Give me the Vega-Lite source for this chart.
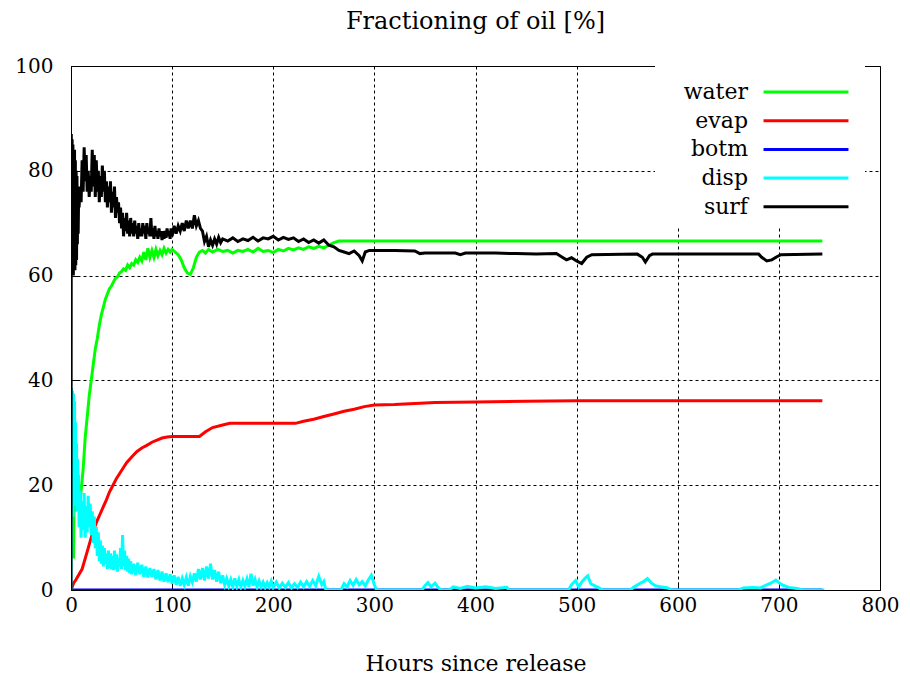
{
  "$schema": "https://vega.github.io/schema/vega-lite/v6.json",
  "width": 809,
  "height": 524,
  "autosize": {"type": "none"},
  "padding": {"left": 71, "top": 66, "right": 30, "bottom": 88},
  "background": "white",
  "title": {"text": "Fractioning of oil [%]", "font": "DejaVu Serif", "fontSize": 24, "fontWeight": "normal", "color": "black", "offset": 22, "anchor": "middle"},
  "config": {
    "view": {"stroke": "black", "strokeWidth": 1},
    "axis": {
      "domain": false, "grid": true, "gridColor": "black", "gridDash": [3, 3], "gridOpacity": 1, "gridWidth": 1,
      "tickColor": "black", "tickSize": -8, "labelFont": "DejaVu Serif", "labelFontSize": 20, "labelColor": "black", "labelFlush": false,
      "titleFont": "DejaVu Serif", "titleFontSize": 22, "titleFontWeight": "normal", "titleColor": "black"
    },
    "legend": {"labelFont": "DejaVu Serif", "labelFontSize": 22, "labelColor": "black"}
  },
  "datasets": {
    "water": [
      {"t":2.5,"v":6},{"t":3,"v":17},{"t":4,"v":15},{"t":5,"v":17},{"t":6,"v":15.5},{"t":7,"v":16.5},{"t":8,"v":16},{"t":9,"v":17},{"t":10,"v":19},{"t":11,"v":21},{"t":12,"v":23},{"t":13,"v":26},{"t":14,"v":29},{"t":15,"v":31},{"t":16,"v":33},{"t":17,"v":35},{"t":18,"v":37},{"t":19,"v":38.5},{"t":20,"v":40},{"t":21,"v":41.5},{"t":22,"v":43},{"t":23,"v":44.5},{"t":24,"v":46},{"t":25,"v":47},{"t":26,"v":48},{"t":28,"v":50.5},{"t":30,"v":52.5},{"t":32,"v":54},{"t":34,"v":55.5},{"t":36,"v":56.5},{"t":38,"v":57.5},{"t":40,"v":58},{"t":42,"v":58.8},{"t":44,"v":59.5},{"t":46,"v":59.8},{"t":48,"v":60.5},{"t":50,"v":60.8},{"t":52,"v":61.3},{"t":54,"v":61},{"t":56,"v":62},{"t":58,"v":61.5},{"t":60,"v":62.3},{"t":62,"v":62},{"t":64,"v":63},{"t":66,"v":62.5},{"t":68,"v":63.5},{"t":70,"v":62.8},{"t":72,"v":64.5},{"t":74,"v":63},{"t":76,"v":65.2},{"t":78,"v":63.5},{"t":80,"v":64.8},{"t":82,"v":63.5},{"t":84,"v":65},{"t":86,"v":63.8},{"t":88,"v":64.8},{"t":90,"v":64},{"t":92,"v":65.2},{"t":94,"v":64.3},{"t":96,"v":65},{"t":98,"v":64.5},{"t":100,"v":65},{"t":103,"v":64.5},{"t":106,"v":64},{"t":109,"v":63},{"t":112,"v":61.5},{"t":115,"v":60.5},{"t":118,"v":60.2},{"t":121,"v":61.5},{"t":124,"v":63.5},{"t":127,"v":64.5},{"t":130,"v":64.8},{"t":133,"v":64.3},{"t":136,"v":65},{"t":140,"v":64.5},{"t":145,"v":65},{"t":150,"v":64.6},{"t":155,"v":64.8},{"t":160,"v":64.3},{"t":165,"v":64.8},{"t":170,"v":64.6},{"t":175,"v":65},{"t":180,"v":64.5},{"t":185,"v":65.2},{"t":190,"v":64.6},{"t":195,"v":64.8},{"t":200,"v":64.4},{"t":205,"v":65},{"t":210,"v":64.7},{"t":215,"v":65.2},{"t":220,"v":64.9},{"t":225,"v":65.3},{"t":230,"v":65},{"t":235,"v":65.5},{"t":240,"v":65.2},{"t":245,"v":65.6},{"t":250,"v":65.3},{"t":255,"v":65.8},{"t":260,"v":66.3},{"t":265,"v":66.6},{"t":743,"v":66.6}
    ],
    "evap": [
      {"t":0,"v":0},{"t":2.6,"v":1.3},{"t":5,"v":2},{"t":8,"v":3},{"t":11,"v":4},{"t":14,"v":6},{"t":17,"v":8},{"t":20,"v":10},{"t":23,"v":11.8},{"t":26,"v":13.3},{"t":29,"v":14.6},{"t":32,"v":15.9},{"t":35,"v":17.2},{"t":38,"v":18.7},{"t":41,"v":19.8},{"t":45,"v":21.3},{"t":50,"v":22.8},{"t":55,"v":24.3},{"t":60,"v":25.4},{"t":65,"v":26.4},{"t":70,"v":27.1},{"t":75,"v":27.6},{"t":80,"v":28.2},{"t":85,"v":28.6},{"t":90,"v":29},{"t":95,"v":29.2},{"t":100,"v":29.3},{"t":127,"v":29.3},{"t":133,"v":30.2},{"t":140,"v":31},{"t":150,"v":31.5},{"t":157,"v":31.8},{"t":222,"v":31.8},{"t":230,"v":32.2},{"t":240,"v":32.6},{"t":250,"v":33.1},{"t":260,"v":33.6},{"t":270,"v":34.1},{"t":280,"v":34.5},{"t":290,"v":35},{"t":300,"v":35.3},{"t":320,"v":35.4},{"t":340,"v":35.6},{"t":360,"v":35.8},{"t":400,"v":35.9},{"t":450,"v":36},{"t":500,"v":36.1},{"t":743,"v":36.1}
    ],
    "botm": [
      {"t":0,"v":0},{"t":743,"v":0}
    ],
    "disp": [
      {"t":0,"v":0},{"t":0.5,"v":38.5},{"t":1,"v":15},{"t":1.5,"v":38},{"t":2,"v":14},{"t":2.5,"v":37.5},{"t":3,"v":16},{"t":3.5,"v":36},{"t":4,"v":17},{"t":4.5,"v":32},{"t":5,"v":18},{"t":5.5,"v":28},{"t":6,"v":15},{"t":6.5,"v":25},{"t":7,"v":19},{"t":7.5,"v":22},{"t":8,"v":12},{"t":9,"v":19},{"t":10,"v":10},{"t":11,"v":17},{"t":12,"v":11.5},{"t":13,"v":18.5},{"t":14,"v":10},{"t":15,"v":16},{"t":16,"v":11},{"t":17,"v":18},{"t":18,"v":12},{"t":19,"v":16.5},{"t":20,"v":10.5},{"t":21,"v":15},{"t":22,"v":9},{"t":23,"v":14},{"t":24,"v":8},{"t":25,"v":12},{"t":26,"v":6.5},{"t":27,"v":11},{"t":28,"v":5.5},{"t":29,"v":9.5},{"t":30,"v":5},{"t":31,"v":8.5},{"t":32,"v":4.5},{"t":33,"v":8},{"t":34,"v":5},{"t":35,"v":7},{"t":36,"v":4},{"t":37,"v":7.5},{"t":38,"v":4.2},{"t":39,"v":7},{"t":40,"v":4},{"t":41,"v":6.5},{"t":42,"v":3.8},{"t":43,"v":7.5},{"t":44,"v":4},{"t":45,"v":6.8},{"t":46,"v":3.5},{"t":47,"v":6},{"t":48,"v":4.5},{"t":49,"v":8},{"t":50,"v":4},{"t":51,"v":10.5},{"t":52,"v":4.5},{"t":53,"v":7.5},{"t":54,"v":3.8},{"t":55,"v":6.5},{"t":56,"v":3.5},{"t":57,"v":6},{"t":58,"v":3.2},{"t":59,"v":5.5},{"t":60,"v":3},{"t":62,"v":5},{"t":64,"v":2.8},{"t":66,"v":5.2},{"t":68,"v":3},{"t":70,"v":4.8},{"t":72,"v":2.5},{"t":74,"v":4.5},{"t":76,"v":2.4},{"t":78,"v":4.2},{"t":80,"v":2.5},{"t":82,"v":4},{"t":84,"v":2},{"t":86,"v":3.8},{"t":88,"v":1.8},{"t":90,"v":3.5},{"t":92,"v":1.6},{"t":94,"v":3.2},{"t":96,"v":1.5},{"t":98,"v":3},{"t":100,"v":1.2},{"t":102,"v":2.8},{"t":104,"v":1},{"t":106,"v":2.5},{"t":108,"v":0.8},{"t":110,"v":2.2},{"t":112,"v":1},{"t":114,"v":2.4},{"t":116,"v":0.8},{"t":118,"v":2.6},{"t":120,"v":1.5},{"t":122,"v":3.2},{"t":124,"v":1.6},{"t":126,"v":4},{"t":128,"v":2},{"t":130,"v":4.2},{"t":132,"v":1.8},{"t":134,"v":4.5},{"t":136,"v":2.2},{"t":138,"v":5},{"t":140,"v":2},{"t":142,"v":3.8},{"t":144,"v":1.6},{"t":146,"v":3.5},{"t":148,"v":1.3},{"t":150,"v":2.8},{"t":152,"v":1},{"t":154,"v":2.2},{"t":156,"v":0.8},{"t":158,"v":2},{"t":160,"v":0.6},{"t":162,"v":2.2},{"t":164,"v":0.7},{"t":166,"v":2},{"t":168,"v":0.6},{"t":170,"v":1.8},{"t":172,"v":0.7},{"t":174,"v":2.1},{"t":176,"v":0.6},{"t":178,"v":3.1},{"t":180,"v":0.8},{"t":182,"v":2},{"t":184,"v":0.6},{"t":186,"v":1.7},{"t":188,"v":0.6},{"t":190,"v":1.5},{"t":192,"v":0.5},{"t":194,"v":1.4},{"t":196,"v":0.6},{"t":198,"v":1.7},{"t":200,"v":0.5},{"t":203,"v":1.5},{"t":206,"v":0.4},{"t":209,"v":1.3},{"t":212,"v":0.5},{"t":215,"v":1.4},{"t":218,"v":0.4},{"t":221,"v":1.2},{"t":224,"v":0.5},{"t":227,"v":1.5},{"t":230,"v":0.6},{"t":233,"v":1.6},{"t":236,"v":0.7},{"t":239,"v":1.8},{"t":242,"v":0.8},{"t":245,"v":2.6},{"t":248,"v":1},{"t":250,"v":1.6},{"t":252,"v":0},{"t":267,"v":0},{"t":270,"v":1.2},{"t":273,"v":0.6},{"t":276,"v":1.8},{"t":279,"v":0.9},{"t":282,"v":2},{"t":285,"v":1},{"t":288,"v":1.6},{"t":291,"v":0.8},{"t":294,"v":1.9},{"t":297,"v":2.8},{"t":300,"v":1},{"t":302,"v":0},{"t":347,"v":0},{"t":350,"v":0.8},{"t":353,"v":1.4},{"t":356,"v":0.6},{"t":360,"v":1.3},{"t":363,"v":0.5},{"t":366,"v":0},{"t":374,"v":0},{"t":378,"v":0.6},{"t":385,"v":0.3},{"t":392,"v":0.7},{"t":400,"v":0.4},{"t":410,"v":0.6},{"t":420,"v":0.3},{"t":431,"v":0.5},{"t":433,"v":0},{"t":492,"v":0},{"t":495,"v":1},{"t":499,"v":1.8},{"t":502,"v":0.6},{"t":505,"v":1.5},{"t":508,"v":2.2},{"t":511,"v":2.7},{"t":514,"v":1.2},{"t":518,"v":0.8},{"t":522,"v":0.4},{"t":526,"v":0},{"t":553,"v":0},{"t":557,"v":0.6},{"t":562,"v":1.2},{"t":566,"v":1.6},{"t":570,"v":2.2},{"t":574,"v":1.3},{"t":578,"v":0.8},{"t":583,"v":0.6},{"t":590,"v":0.4},{"t":594,"v":0},{"t":660,"v":0},{"t":665,"v":0.4},{"t":675,"v":0.5},{"t":682,"v":0.4},{"t":688,"v":1},{"t":692,"v":1.3},{"t":697,"v":1.9},{"t":700,"v":1.4},{"t":704,"v":0.9},{"t":710,"v":0.5},{"t":718,"v":0.3},{"t":724,"v":0},{"t":745,"v":0}
    ],
    "surf": [
      {"t":0,"v":0},{"t":0.3,"v":87},{"t":0.7,"v":60},{"t":1.1,"v":86},{"t":1.5,"v":61},{"t":1.9,"v":85},{"t":2.3,"v":60},{"t":2.7,"v":83},{"t":3.1,"v":62},{"t":3.5,"v":84},{"t":3.9,"v":61},{"t":4.3,"v":82},{"t":4.7,"v":62},{"t":5.1,"v":80},{"t":5.5,"v":63},{"t":5.9,"v":79},{"t":6.3,"v":66},{"t":6.7,"v":77},{"t":7.1,"v":68},{"t":7.6,"v":76},{"t":8,"v":73},{"t":9,"v":77},{"t":10,"v":74},{"t":11,"v":82},{"t":12,"v":76},{"t":13,"v":84.5},{"t":14,"v":78},{"t":15,"v":83},{"t":16,"v":76},{"t":17,"v":80},{"t":18,"v":75},{"t":19,"v":79},{"t":20,"v":76},{"t":21,"v":84},{"t":22,"v":77},{"t":23,"v":83},{"t":24,"v":75},{"t":25,"v":82},{"t":26,"v":76},{"t":27,"v":80},{"t":28,"v":74},{"t":29,"v":79},{"t":30,"v":75},{"t":31,"v":81},{"t":32,"v":76},{"t":33,"v":80},{"t":34,"v":74},{"t":35,"v":78},{"t":36,"v":73},{"t":37,"v":77},{"t":38,"v":74},{"t":39,"v":78},{"t":40,"v":72},{"t":41,"v":76},{"t":42,"v":73},{"t":43,"v":77},{"t":44,"v":71},{"t":45,"v":75},{"t":46,"v":72},{"t":47,"v":74},{"t":48,"v":70},{"t":49,"v":73},{"t":50,"v":69},{"t":51,"v":72},{"t":52,"v":67.5},{"t":53,"v":71},{"t":54,"v":68.5},{"t":55,"v":72},{"t":56,"v":68},{"t":57,"v":70.5},{"t":58,"v":67.5},{"t":59,"v":71},{"t":60,"v":68},{"t":61,"v":70},{"t":62,"v":67.5},{"t":63,"v":70.5},{"t":64,"v":68},{"t":65,"v":69.5},{"t":66,"v":67},{"t":67,"v":70},{"t":68,"v":67.5},{"t":69,"v":69},{"t":70,"v":67.5},{"t":71,"v":70},{"t":72,"v":68},{"t":73,"v":69.5},{"t":74,"v":67},{"t":75,"v":70},{"t":76,"v":68},{"t":77,"v":69},{"t":78,"v":67.5},{"t":79,"v":71},{"t":80,"v":67.5},{"t":81,"v":69},{"t":82,"v":67},{"t":83,"v":69.5},{"t":84,"v":67.5},{"t":85,"v":68.5},{"t":86,"v":67},{"t":87,"v":69},{"t":88,"v":67.5},{"t":89,"v":68.5},{"t":90,"v":66.8},{"t":91,"v":68.5},{"t":92,"v":67},{"t":93,"v":68.5},{"t":94,"v":67.2},{"t":95,"v":69},{"t":96,"v":67.5},{"t":97,"v":68.5},{"t":98,"v":67},{"t":99,"v":69},{"t":100,"v":67.5},{"t":102,"v":69.5},{"t":104,"v":68},{"t":106,"v":69.5},{"t":108,"v":68.5},{"t":110,"v":70},{"t":112,"v":68.5},{"t":114,"v":70.5},{"t":116,"v":69},{"t":118,"v":70.5},{"t":120,"v":69},{"t":122,"v":71.5},{"t":124,"v":69.5},{"t":126,"v":70.5},{"t":128,"v":69},{"t":130,"v":68.5},{"t":132,"v":66.5},{"t":134,"v":67.5},{"t":136,"v":65.5},{"t":138,"v":66.8},{"t":140,"v":65.8},{"t":142,"v":67},{"t":144,"v":66},{"t":146,"v":67.3},{"t":148,"v":66.3},{"t":150,"v":67},{"t":155,"v":66.6},{"t":160,"v":67.2},{"t":165,"v":66.5},{"t":170,"v":67},{"t":175,"v":66.7},{"t":180,"v":67.3},{"t":185,"v":66.6},{"t":190,"v":67.2},{"t":195,"v":67},{"t":200,"v":67.5},{"t":205,"v":66.8},{"t":210,"v":67.3},{"t":215,"v":66.9},{"t":220,"v":67.2},{"t":225,"v":66.5},{"t":230,"v":67},{"t":235,"v":66.3},{"t":240,"v":66.8},{"t":245,"v":66.2},{"t":250,"v":66.8},{"t":255,"v":65.8},{"t":260,"v":65.5},{"t":265,"v":64.8},{"t":270,"v":64.5},{"t":275,"v":64.2},{"t":280,"v":64.7},{"t":285,"v":63.8},{"t":288,"v":62.8},{"t":291,"v":64.5},{"t":295,"v":64.8},{"t":300,"v":64.8},{"t":320,"v":64.8},{"t":340,"v":64.7},{"t":345,"v":64.2},{"t":350,"v":64.3},{"t":380,"v":64.3},{"t":385,"v":64},{"t":390,"v":64.3},{"t":420,"v":64.3},{"t":440,"v":64.2},{"t":460,"v":64.1},{"t":480,"v":64.2},{"t":485,"v":63.6},{"t":490,"v":63},{"t":495,"v":63.4},{"t":500,"v":62.8},{"t":505,"v":62.3},{"t":510,"v":63.5},{"t":515,"v":64},{"t":560,"v":64.1},{"t":565,"v":63.5},{"t":568,"v":62.6},{"t":572,"v":63.8},{"t":575,"v":64.1},{"t":640,"v":64.1},{"t":680,"v":64.1},{"t":683,"v":63.5},{"t":688,"v":62.8},{"t":693,"v":63},{"t":698,"v":63.6},{"t":702,"v":64},{"t":743,"v":64.1}
    ]
  },
  "encoding": {
    "x": {"field": "t", "type": "quantitative", "scale": {"domain": [0, 800], "nice": false}, "axis": {"title": "Hours since release", "values": [0,100,200,300,400,500,600,700,800], "labelPadding": 13, "titlePadding": 38}},
    "y": {"field": "v", "type": "quantitative", "scale": {"domain": [0, 100], "nice": false}, "axis": {"title": null, "values": [0,20,40,60,80,100], "labelPadding": 26}}
  },
  "layer": [
    {"data": {"name": "water"}, "mark": {"type": "line", "strokeWidth": 3, "clip": true}, "encoding": {"color": {"datum": "water", "type": "nominal", "scale": {"domain": ["water","evap","botm","disp","surf"], "range": ["#00ff00","#ff0000","#0000ff","#00ffff","#000000"]}, "legend": {"title": null, "orient": "none", "legendX": 584, "legendY": 0, "symbolType": "M -3 0 L 3 0", "symbolSize": 802, "symbolStrokeWidth": 3, "labelAlign": "right", "labelOffset": -74, "symbolOffset": 125, "rowPadding": 1.7, "fillColor": "white", "padding": 10}}}},
    {"data": {"name": "evap"}, "mark": {"type": "line", "strokeWidth": 3, "clip": true}, "encoding": {"color": {"datum": "evap", "type": "nominal"}}},
    {"data": {"name": "botm"}, "mark": {"type": "line", "strokeWidth": 3, "clip": true}, "encoding": {"color": {"datum": "botm", "type": "nominal"}}},
    {"data": {"name": "disp"}, "mark": {"type": "line", "strokeWidth": 3, "clip": true}, "encoding": {"color": {"datum": "disp", "type": "nominal"}}},
    {"data": {"name": "surf"}, "mark": {"type": "line", "strokeWidth": 3, "clip": true}, "encoding": {"color": {"datum": "surf", "type": "nominal"}}}
  ]
}
